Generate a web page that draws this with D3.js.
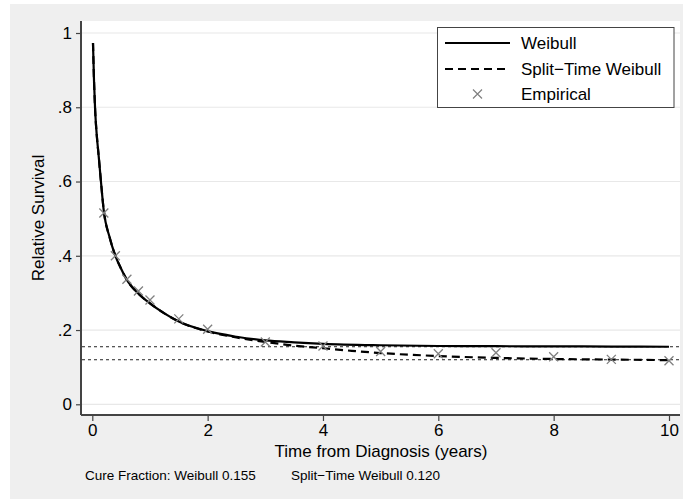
<!DOCTYPE html>
<html>
<head>
<meta charset="utf-8">
<script src="https://cdn.jsdelivr.net/npm/d3@7"></script>
<style>
  body { margin: 0; background: #fff; }
  text { font-family: "Liberation Sans", Arial, sans-serif; fill: #000; }
</style>
</head>
<body>
<div id="chart"></div>
<script>
// data
const weibullT = [0.012, 0.03, 0.05, 0.08, 0.11, 0.15, 0.2, 0.3, 0.4, 0.5, 0.6, 0.8, 1.0, 1.25, 1.5, 2, 2.5, 3, 3.5, 4, 5, 6, 7, 8, 9, 10];
const weibullS = [0.973, 0.87, 0.79, 0.72, 0.67, 0.60, 0.52, 0.45, 0.40, 0.365, 0.335, 0.298, 0.272, 0.245, 0.223, 0.197, 0.182, 0.172, 0.167, 0.163, 0.159, 0.157, 0.1565, 0.156, 0.1555, 0.155];
const splitT = [0.012, 0.03, 0.05, 0.08, 0.11, 0.15, 0.2, 0.3, 0.4, 0.5, 0.6, 0.8, 1.0, 1.25, 1.5, 2, 2.5, 3, 3.5, 4, 4.5, 5, 6, 7, 8, 9, 10];
const splitS = [0.973, 0.87, 0.79, 0.72, 0.67, 0.60, 0.52, 0.45, 0.40, 0.365, 0.335, 0.298, 0.272, 0.245, 0.223, 0.196, 0.180, 0.168, 0.158, 0.151, 0.144, 0.138, 0.130, 0.125, 0.122, 0.1205, 0.119];
const empT = [0.2, 0.4, 0.6, 0.8, 1.0, 1.5, 2, 3, 4, 5, 6, 7, 8, 9, 10];
const empS = [0.515, 0.40, 0.337, 0.305, 0.281, 0.23, 0.202, 0.168, 0.157, 0.142, 0.136, 0.139, 0.128, 0.121, 0.1175];
const cureFractions = [0.155, 0.120];
const xTicks = [0, 2, 4, 6, 8, 10];
const yTicks = [0, 0.2, 0.4, 0.6, 0.8, 1];
const yTickLabels = ["0", ".2", ".4", ".6", ".8", "1"];
const legendNames = ["Weibull", "Split\u2212Time Weibull", "Empirical"];

const W = 683, H = 499;
const plot = {left: 81, top: 21, right: 680, bottom: 415};

const svg = d3.select('#chart').append('svg')
  .attr('width', W)
  .attr('height', H);

// stata style gray graph region
svg.append('rect')
  .attr('x', 10).attr('y', 4)
  .attr('width', W - 10).attr('height', H - 4)
  .attr('fill', '#efefef');

svg.append('rect')
  .attr('x', plot.left).attr('y', plot.top)
  .attr('width', plot.right - plot.left).attr('height', plot.bottom - plot.top)
  .attr('fill', '#fff');

const x = d3.scaleLinear().domain([0, 10]).range([92.3, 669]);
const y = d3.scaleLinear().domain([0, 1]).range([404.3, 33]);

// grid lines
svg.append('g')
  .selectAll('line')
  .data(yTicks)
  .enter().append('line')
    .attr('x1', plot.left).attr('x2', plot.right)
    .attr('y1', d => y(d)).attr('y2', d => y(d))
    .attr('stroke', '#e8e8e8')
    .attr('stroke-width', 1.2);

// y axis
const yAxis = svg.append('g')
  .attr('transform', 'translate(' + plot.left + ',0)')
  .call(d3.axisLeft(y).tickValues(yTicks).tickFormat((d, i) => yTickLabels[i]).tickSize(5).tickPadding(4).tickSizeOuter(0));
yAxis.select('.domain').attr('d', 'M0,' + plot.top + 'V' + plot.bottom);

// x axis
const xAxis = svg.append('g')
  .attr('transform', 'translate(0,' + plot.bottom + ')')
  .call(d3.axisBottom(x).tickValues(xTicks).tickSize(6).tickPadding(3).tickSizeOuter(0));
xAxis.select('.domain').attr('d', 'M' + plot.left + ',0H' + plot.right);

svg.selectAll('.domain').attr('stroke', '#444').attr('stroke-width', 2);
svg.selectAll('.tick line').attr('stroke', '#444').attr('stroke-width', 1.2);
svg.selectAll('.tick text')
  .style('font-size', '17px')
  .style('font-family', '"Liberation Sans", Arial, sans-serif')
  .attr('fill', '#000');

// cure fraction reference lines
svg.append('g')
  .selectAll('line')
  .data(cureFractions)
  .enter().append('line')
    .attr('x1', plot.left + 1).attr('x2', plot.right)
    .attr('y1', d => y(d)).attr('y2', d => y(d))
    .attr('stroke', '#222')
    .attr('stroke-width', 1)
    .attr('stroke-dasharray', '3,3');

const line = d3.line().curve(d3.curveMonotoneX);

svg.append('path')
  .attr('d', line(weibullT.map((t, i) => [x(t), y(weibullS[i])])))
  .attr('fill', 'none')
  .attr('stroke', '#000')
  .attr('stroke-width', 2.2);

svg.append('path')
  .attr('d', line(splitT.map((t, i) => [x(t), y(splitS[i])])))
  .attr('fill', 'none')
  .attr('stroke', '#000')
  .attr('stroke-width', 2.2)
  .attr('stroke-dasharray', '8,5');

// empirical markers
const mk = 4.5;
function xMark(cx, cy) {
  return 'M' + (cx - mk) + ',' + (cy - mk) + 'L' + (cx + mk) + ',' + (cy + mk) +
         'M' + (cx - mk) + ',' + (cy + mk) + 'L' + (cx + mk) + ',' + (cy - mk);
}
svg.append('g')
  .selectAll('path')
  .data(empT)
  .enter().append('path')
    .attr('d', (d, i) => xMark(x(d), y(empS[i])))
    .attr('stroke', '#808080')
    .attr('stroke-width', 1.3)
    .attr('fill', 'none');

// legend
const lg = svg.append('g');
lg.append('rect')
  .attr('x', 437.5).attr('y', 27.5)
  .attr('width', 236.5).attr('height', 80)
  .attr('fill', '#fff')
  .attr('stroke', '#444')
  .attr('stroke-width', 1);
const rows = [43, 69, 94];
lg.append('line')
  .attr('x1', 445).attr('x2', 510).attr('y1', rows[0]).attr('y2', rows[0])
  .attr('stroke', '#000').attr('stroke-width', 2);
lg.append('line')
  .attr('x1', 445).attr('x2', 510).attr('y1', rows[1]).attr('y2', rows[1])
  .attr('stroke', '#000').attr('stroke-width', 2).attr('stroke-dasharray', '8,5');
lg.append('path')
  .attr('d', xMark(477.5, rows[2]))
  .attr('stroke', '#808080').attr('stroke-width', 1.2).attr('fill', 'none');
lg.selectAll('text')
  .data(legendNames)
  .enter().append('text')
    .attr('x', 521)
    .attr('y', (d, i) => rows[i])
    .attr('dy', '0.35em')
    .style('font-size', '17px')
    .text(d => d);

// axis titles
svg.append('text')
  .attr('text-anchor', 'middle')
  .attr('transform', 'translate(44,' + ((plot.top + plot.bottom) / 2) + ') rotate(-90)')
  .style('font-size', '17px')
  .text('Relative Survival');

svg.append('text')
  .attr('text-anchor', 'middle')
  .attr('x', 381)
  .attr('y', 457)
  .style('font-size', '17px')
  .text('Time from Diagnosis (years)');

svg.append('text')
  .attr('x', 85)
  .attr('y', 480)
  .style('font-size', '13.5px')
  .text('Cure Fraction: Weibull 0.155');
svg.append('text')
  .attr('x', 291)
  .attr('y', 480)
  .style('font-size', '13.5px')
  .text('Split\u2212Time Weibull 0.120');
</script>
</body>
</html>
